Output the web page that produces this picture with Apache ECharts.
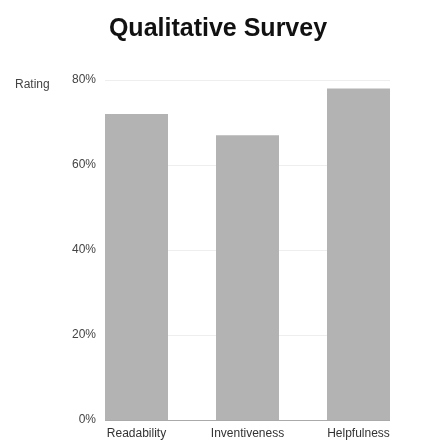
<!DOCTYPE html>
<html>
<head>
<meta charset="utf-8">
<script src="https://cdn.jsdelivr.net/npm/echarts@6/dist/echarts.min.js"></script>
<style>
  html, body { margin: 0; padding: 0; background: #fff; overflow: hidden; }
  #chart { width: 436px; height: 443px; }
</style>
</head>
<body>
<div id="chart"></div>
<script>
// Survey categories and their ratings (percent)
const categories = ['Readability', 'Inventiveness', 'Helpfulness'];
const ratings = [72, 67, 78];
const yTicks = [0, 20, 40, 60, 80];

const FONT = 'Liberation Sans';
const BAR_WIDTH = 63;

const chart = echarts.init(document.getElementById('chart'), null, { renderer: 'canvas', width: 436, height: 443 });

chart.setOption({
  animation: false,
  title: [
    {
      text: 'Qualitative Survey',
      left: 'center',
      top: 12,
      textStyle: { fontFamily: FONT, fontWeight: 'bold', fontSize: 25, color: '#111111' }
    },
    {
      text: 'Rating',
      left: 10,
      top: 74,
      textStyle: { fontFamily: FONT, fontWeight: 'normal', fontSize: 12, color: '#444444' }
    }
  ],
  grid: { left: 81, right: 22, top: 80, bottom: 23, outerBoundsMode: 'none' },
  xAxis: {
    type: 'category',
    data: categories,
    axisLine: { show: false },
    axisTick: { show: false },
    axisLabel: { fontFamily: FONT, fontSize: 12, color: '#333333', margin: 8, interval: 0 }
  },
  yAxis: {
    type: 'value',
    min: yTicks[0],
    max: yTicks[yTicks.length - 1],
    interval: yTicks[1] - yTicks[0],
    axisLine: { show: false },
    axisTick: { show: false },
    axisLabel: { formatter: '{value}%', fontFamily: FONT, fontSize: 12, color: '#444444', margin: -15 },
    splitLine: { show: false }
  },
  series: [
    {
      type: 'bar',
      data: ratings,
      barWidth: BAR_WIDTH,
      itemStyle: { color: '#b3b3b3' },
      z: 3
    }
  ]
});

// Gridlines run from the left edge of the first bar to the right edge of the last one
const first = chart.convertToPixel({ seriesIndex: 0 }, [0, 0]);
const last = chart.convertToPixel({ seriesIndex: 0 }, [categories.length - 1, 0]);
const x0 = first[0] - BAR_WIDTH / 2;
const x1 = last[0] + BAR_WIDTH / 2;
const lines = yTicks.map(function (v, i) {
  const y = Math.round(chart.convertToPixel({ seriesIndex: 0 }, [0, v])[1]) + 0.5;
  return {
    type: 'line',
    z: i === 0 ? 5 : 1,
    shape: { x1: x0, y1: y, x2: x1, y2: y },
    style: { stroke: i === 0 ? '#aaaaaa' : '#eeeeee', lineWidth: 1 }
  };
});
chart.setOption({ graphic: lines });
</script>
</body>
</html>
